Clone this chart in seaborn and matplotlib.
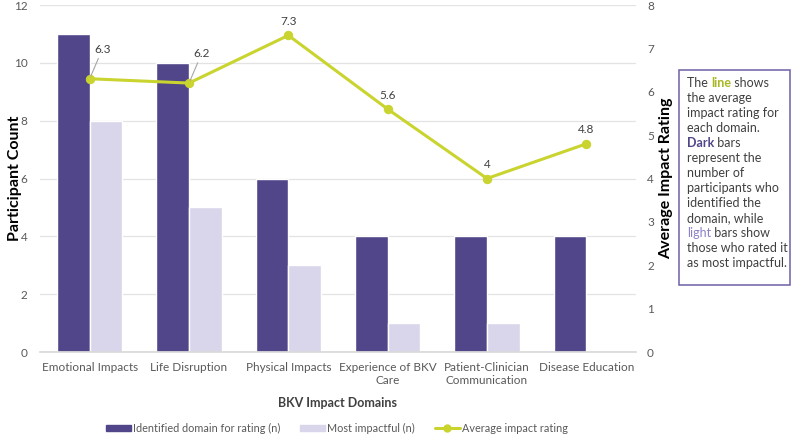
import pandas as pd
import numpy as np
import matplotlib.pyplot as plt
import seaborn as sns
from matplotlib.patches import Patch, Rectangle
from matplotlib.lines import Line2D

# Datos del gráfico
dominios = ["Emotional Impacts", "Life Disruption", "Physical Impacts",
            "Experience of BKV\nCare", "Patient-Clinician\nCommunication",
            "Disease Education"]
identificados = [11, 10, 6, 4, 4, 4]
mas_impactante = [8, 5, 3, 1, 1, 0]
rating_medio = [6.3, 6.2, 7.3, 5.6, 4.0, 4.8]
etiquetas_rating = ["6.3", "6.2", "7.3", "5.6", "4", "4.8"]

oscuro = "#514689"
claro = "#D9D6EB"
verde = "#C9D42F"
gris_txt = "#595959"

sns.set_theme(style="white")
plt.rcParams['font.family'] = ['Lato', 'DejaVu Sans']

df = pd.DataFrame({
    "Dominio": dominios * 2,
    "n": identificados + mas_impactante,
    "Serie": ["Identified domain for rating (n)"] * 6 + ["Most impactful (n)"] * 6,
})

fig = plt.figure(figsize=(7.93, 4.36), dpi=100)
ax = fig.add_axes([40 / 793, 1 - 352 / 436, 596 / 793, 347 / 436])

sns.barplot(data=df, x="Dominio", y="n", hue="Serie", palette=[oscuro, claro],
            width=0.66, gap=0, saturation=1, ax=ax, legend=False)
ax.set_ylim(0, 12)
ax.set_yticks(range(0, 13, 2))
ax.set_xlim(-0.5, len(dominios) - 0.5)
ax.grid(axis="y", color="#E3E3E3", linewidth=0.9)
ax.set_axisbelow(True)
for s in ["top", "right", "left"]:
    ax.spines[s].set_visible(False)
ax.spines["bottom"].set_color("#D9D9D9")
ax.tick_params(axis="both", length=0, labelsize=8.5, labelcolor=gris_txt)
ax.tick_params(axis="y", pad=9)
ax.tick_params(axis="x", pad=7)
ax.set_xlabel("BKV Impact Domains", fontsize=9, fontweight="bold", color="#404040", labelpad=8)
ax.set_ylabel("Participant Count", fontsize=11.5, fontweight="bold", color="black")
ax.yaxis.set_label_coords(-18 / 596, 0.5)

# Eje secundario para la línea
ax2 = ax.twinx()
pos = np.arange(len(dominios))
sns.lineplot(x=pos, y=rating_medio, ax=ax2, color=verde, linewidth=2.2,
             marker="o", markersize=6, markeredgecolor=verde)
ax2.set_ylim(0, 8)
ax2.set_yticks(range(0, 9))
for s in ["top", "right", "left", "bottom"]:
    ax2.spines[s].set_visible(False)
ax2.tick_params(axis="y", length=0, labelsize=8.5, labelcolor=gris_txt, pad=8)
ax2.set_ylabel("Average Impact Rating", fontsize=11.5, fontweight="bold", color="black", labelpad=4)
ax2.grid(False)

# Etiquetas de datos
for i, (v, t) in enumerate(zip(rating_medio, etiquetas_rating)):
    if i < 2:
        ax2.annotate(t, xy=(i, v), xytext=(9, 17), textcoords="offset points",
                     ha="center", va="bottom", fontsize=8.5, color="#404040",
                     arrowprops=dict(arrowstyle="-", color="#A6A6A6", lw=0.8,
                                     shrinkA=0, shrinkB=2))
    else:
        ax2.annotate(t, xy=(i, v), xytext=(0, 6), textcoords="offset points",
                     ha="center", va="bottom", fontsize=8.5, color="#404040")

# Leyenda
handles = [Patch(color=oscuro, label="Identified domain for rating (n)"),
           Patch(color=claro, label="Most impactful (n)"),
           Line2D([0], [0], color=verde, lw=2.2, marker="o", markersize=5,
                  label="Average impact rating")]
fig.legend(handles=handles, loc="center", bbox_to_anchor=(337 / 793, 1 - 428 / 436),
           ncol=3, frameon=False, fontsize=7.8, handlelength=2.3, handleheight=0.5,
           columnspacing=1.8, handletextpad=0.2, labelcolor=gris_txt)

# Cuadro de texto explicativo
fig.patches.append(Rectangle((679 / 793, 1 - 285 / 436), 111 / 793, 215 / 436,
                             transform=fig.transFigure, fill=False,
                             edgecolor="#6F5FA6", linewidth=1.1))
negro = "#404040"
lineas = [
    [("The ", negro, "normal"), ("line", "#A9B824", "bold"), (" shows", negro, "normal")],
    [("the average", negro, "normal")],
    [("impact rating for", negro, "normal")],
    [("each domain.", negro, "normal")],
    [("Dark", oscuro, "bold"), (" bars", negro, "normal")],
    [("represent the", negro, "normal")],
    [("number of", negro, "normal")],
    [("participants who", negro, "normal")],
    [("identified the", negro, "normal")],
    [("domain, while", negro, "normal")],
    [("light", "#8C80C8", "normal"), (" bars show", negro, "normal")],
    [("those who rated it", negro, "normal")],
    [("as most impactful.", negro, "normal")],
]
renderer = fig.canvas.get_renderer()
for k, segs in enumerate(lineas):
    y = 1 - (82 + 15 * k) / 436
    x = 687 / 793
    for txt, col, peso in segs:
        t = fig.text(x, y, txt, fontsize=9, color=col, fontweight=peso,
                     va="center_baseline", ha="left")
        bb = t.get_window_extent(renderer).transformed(fig.transFigure.inverted())
        x = x + bb.width

fig.savefig("out.png", dpi=100)
